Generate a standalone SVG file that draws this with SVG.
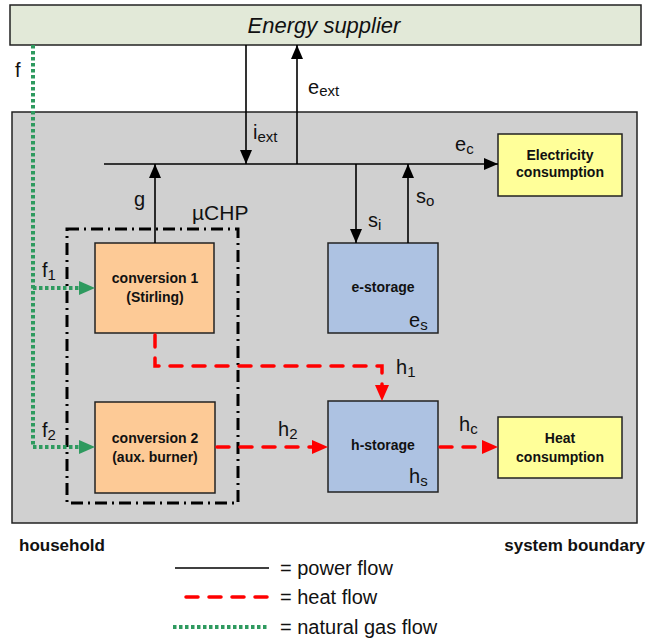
<svg xmlns="http://www.w3.org/2000/svg" width="665" height="639" viewBox="0 0 665 639">
<defs>
<style>
.box{stroke:#222;stroke-width:1.5}
.lbl{font-family:"Liberation Sans",Arial,sans-serif;font-size:20px;fill:#111}
.sub{font-size:15px}
.bt{font-family:"Liberation Sans",Arial,sans-serif;font-weight:bold;font-size:14px;fill:#111;text-anchor:middle}
.pw{stroke:#000;stroke-width:1.6;fill:none}
.ht{stroke:#ff0000;stroke-width:3.5;fill:none;stroke-dasharray:12,11;stroke-linecap:round}
.gs{stroke:#2e9a5f;stroke-width:4;fill:none;stroke-dasharray:3.5,2.5}
.ft{font-family:"Liberation Sans",Arial,sans-serif;font-weight:bold;font-size:17px;fill:#111}
</style>
<marker id="ab" markerUnits="userSpaceOnUse" markerWidth="14" markerHeight="12" refX="14" refY="6" orient="auto"><path d="M0,0 L14,6 L0,12 Z" fill="#000"/></marker>
<marker id="ar" markerUnits="userSpaceOnUse" markerWidth="16" markerHeight="14" refX="16" refY="7" orient="auto"><path d="M0,0 L16,7 L0,14 Z" fill="#ff0000"/></marker>
<marker id="ag" markerUnits="userSpaceOnUse" markerWidth="16" markerHeight="14" refX="16" refY="7" orient="auto"><path d="M0,0 L16,7 L0,14 Z" fill="#2e9a5f"/></marker>
</defs>
<rect width="665" height="639" fill="#fff"/>
<g id="household">
<rect x="12" y="112" width="625" height="411" fill="#d0d0d0" class="box"/>
</g>
<g id="supplier">
<rect x="10" y="5" width="631" height="40" fill="#e2e9d8" class="box"/>
<text x="324" y="33" class="lbl" font-style="italic" text-anchor="middle" style="font-size:22px">Energy supplier</text>
</g>
<g id="uchp">
<rect x="67" y="229" width="171" height="274" fill="none" stroke="#000" stroke-width="3" stroke-dasharray="12,5,2,5"/>
<text x="192" y="220" class="lbl" style="font-size:21px">µCHP</text>
</g>
<g id="conv1">
<rect x="95" y="243" width="119" height="90" fill="#fdca96" class="box"/>
<text x="155" y="283" class="bt">conversion  1</text>
<text x="155" y="302" class="bt">(Stirling)</text>
</g>
<g id="conv2">
<rect x="95" y="402" width="120" height="91" fill="#fdca96" class="box"/>
<text x="155" y="443" class="bt">conversion  2</text>
<text x="155" y="462" class="bt">(aux. burner)</text>
</g>
<g id="estorage">
<rect x="328" y="243" width="110" height="90" fill="#adc2e2" class="box"/>
<text x="383" y="292" class="bt">e-storage</text>
<text x="409" y="327" class="lbl">e<tspan class="sub" dy="3">s</tspan></text>
</g>
<g id="hstorage">
<rect x="328" y="401" width="110" height="91" fill="#adc2e2" class="box"/>
<text x="383" y="450" class="bt">h-storage</text>
<text x="409" y="483" class="lbl">h<tspan class="sub" dy="3">s</tspan></text>
</g>
<g id="elec">
<rect x="498" y="134" width="124" height="62" fill="#ffff99" class="box"/>
<text x="560" y="160" class="bt">Electricity</text>
<text x="560" y="177" class="bt">consumption</text>
</g>
<g id="heat">
<rect x="498" y="417" width="124" height="61" fill="#ffff99" class="box"/>
<text x="560" y="443" class="bt">Heat</text>
<text x="560" y="462" class="bt">consumption</text>
</g>
<g id="connectors">
<path class="pw" d="M104,164 H498" marker-end="url(#ab)"/>
<path class="pw" d="M246,45 V164" marker-end="url(#ab)"/>
<path class="pw" d="M297,164 V45" marker-end="url(#ab)"/>
<path class="pw" d="M155,243 V164" marker-end="url(#ab)"/>
<path class="pw" d="M356,164 V243" marker-end="url(#ab)"/>
<path class="pw" d="M408,243 V164" marker-end="url(#ab)"/>
<path class="ht" d="M155,335 V366 H382 V392"/>
<path d="M382,388 V401" stroke="none" fill="none" marker-end="url(#ar)"/>
<path class="ht" d="M217,447 H318"/>
<path d="M312,447 H328" stroke="none" fill="none" marker-end="url(#ar)"/>
<path class="ht" d="M440,447 H484"/>
<path d="M482,447 H498" stroke="none" fill="none" marker-end="url(#ar)"/>
<path class="gs" d="M33,45 V447 H90"/>
<path d="M80,447 H95" stroke="none" fill="none" marker-end="url(#ag)"/>
<path class="gs" d="M33,288 H90"/>
<path d="M80,288 H95" stroke="none" fill="none" marker-end="url(#ag)"/>
<text x="15" y="77" class="lbl">f</text>
<text x="42" y="277" class="lbl">f<tspan class="sub" dy="3">1</tspan></text>
<text x="42" y="437" class="lbl">f<tspan class="sub" dy="3">2</tspan></text>
<text x="308" y="94" class="lbl">e<tspan class="sub" dy="2">ext</tspan></text>
<text x="253" y="139" class="lbl">i<tspan class="sub" dy="3">ext</tspan></text>
<text x="134" y="206" class="lbl">g</text>
<text x="455" y="151" class="lbl">e<tspan class="sub" dy="3">c</tspan></text>
<text x="368" y="227" class="lbl">s<tspan class="sub" dy="3">i</tspan></text>
<text x="416" y="203" class="lbl">s<tspan class="sub" dy="3">o</tspan></text>
<text x="396" y="374" class="lbl">h<tspan class="sub" dy="3">1</tspan></text>
<text x="278" y="436" class="lbl">h<tspan class="sub" dy="3">2</tspan></text>
<text x="459" y="431" class="lbl">h<tspan class="sub" dy="3">c</tspan></text>
</g>
<g id="footer">
<text x="19" y="551" class="ft">household</text>
<text x="645" y="551" class="ft" text-anchor="end">system boundary</text>
</g>
<g id="legend">
<path class="pw" d="M175,568 H269"/>
<path class="ht" d="M186,597 H269"/>
<path class="gs" d="M173,627 H269"/>
<text x="280" y="575" class="lbl">= power flow</text>
<text x="280" y="604" class="lbl">= heat flow</text>
<text x="280" y="634" class="lbl">= natural gas flow</text>
</g>
</svg>
